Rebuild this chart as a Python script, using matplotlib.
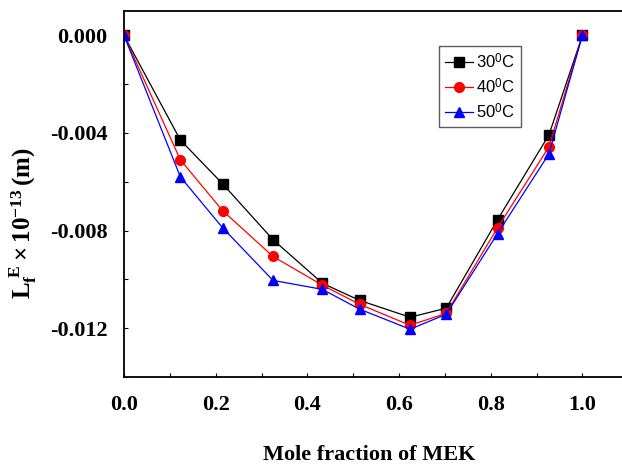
import matplotlib
matplotlib.use("Agg")
import matplotlib.pyplot as plt
from matplotlib.ticker import MultipleLocator

plt.rcParams['mathtext.fontset'] = 'custom'
plt.rcParams['mathtext.rm'] = 'Liberation Serif:bold'
plt.rcParams['mathtext.bf'] = 'Liberation Serif:bold'
plt.rcParams['mathtext.it'] = 'Liberation Serif:bold'
plt.rcParams['mathtext.sf'] = 'Liberation Sans'

x = [0.0, 0.123, 0.215, 0.325, 0.433, 0.514, 0.624, 0.703, 0.815, 0.927, 1.0]
y30 = [0.0, -0.00429, -0.00608, -0.00837, -0.01016, -0.01086, -0.01155, -0.01118, -0.00755, -0.00408, 0.0]
y40 = [0.0, -0.0051, -0.00718, -0.00906, -0.01024, -0.01102, -0.01188, -0.01139, -0.00788, -0.00457, 0.0]
y50 = [0.0, -0.0058, -0.00788, -0.01004, -0.01041, -0.01122, -0.01204, -0.01143, -0.00812, -0.00486, 0.0]
labels = [r'30$^{\mathsf{0}}$C', r'40$^{\mathsf{0}}$C', r'50$^{\mathsf{0}}$C']
xticks = [0.0, 0.2, 0.4, 0.6, 0.8, 1.0]
yticks = [0.000, -0.004, -0.008, -0.012]

fig = plt.figure(figsize=(6.22, 4.68), dpi=100)
ax = fig.add_axes([124/622, 1 - 377/468, 1 - 124/622 + 0.01, (377 - 11)/468])

ax.plot(x, y30, color='black', marker='s', markersize=6.5, linewidth=0.9, label=labels[0])
ax.plot(x, y40, color='red', marker='o', markersize=7, linewidth=0.9, label=labels[1])
ax.plot(x, y50, color='blue', marker='^', markersize=7.5, linewidth=0.9, label=labels[2])

ax.set_xlim(0, 1.1)
ax.set_ylim(-0.014, 0.001)
ax.set_xticks(xticks)
ax.set_yticks(yticks)
ax.set_xticklabels([f'{v:.1f}' for v in xticks])
ax.set_yticklabels([f'{v:.3f}' for v in yticks])
ax.xaxis.set_minor_locator(MultipleLocator(0.1))
ax.yaxis.set_minor_locator(MultipleLocator(0.002))
ax.tick_params(which='both', direction='in', length=3, width=0.8, top=False, right=False)
ax.tick_params(axis='x', which='major', pad=13)
ax.tick_params(axis='y', which='major', pad=12)
for lab in ax.get_xticklabels() + ax.get_yticklabels():
    lab.set_fontfamily('Liberation Serif')
    lab.set_fontweight('bold')
    lab.set_fontsize(16)
ax.spines['right'].set_visible(False)
for s in ['left', 'bottom', 'top']:
    ax.spines[s].set_linewidth(1.3)

ax.set_xlabel('Mole fraction of MEK', fontfamily='Liberation Serif', fontweight='bold', fontsize=16)
ax.xaxis.set_label_coords((366 - 124) / 498, -(445 - 377) / 366)
ax.set_ylabel(r'$\mathbf{L_f^{\ E}}\times\mathbf{10^{-13}}\,$(m)', fontfamily='Liberation Serif',
              fontweight='bold', fontsize=18)
ax.yaxis.set_label_coords(-(124 - 40) / 498, (377 - 223) / 366)

leg = ax.legend(loc='upper left', bbox_to_anchor=((435 - 124) / 498, 1 - (46 - 11) / 366),
                prop={'family': 'Liberation Sans', 'size': 12}, frameon=True, fancybox=False,
                edgecolor='#333333', handlelength=1.7, handletextpad=0.2, borderpad=0.35,
                labelspacing=0.35, borderaxespad=0)
leg.get_frame().set_linewidth(1.0)

fig.savefig('out.png', dpi=100)
